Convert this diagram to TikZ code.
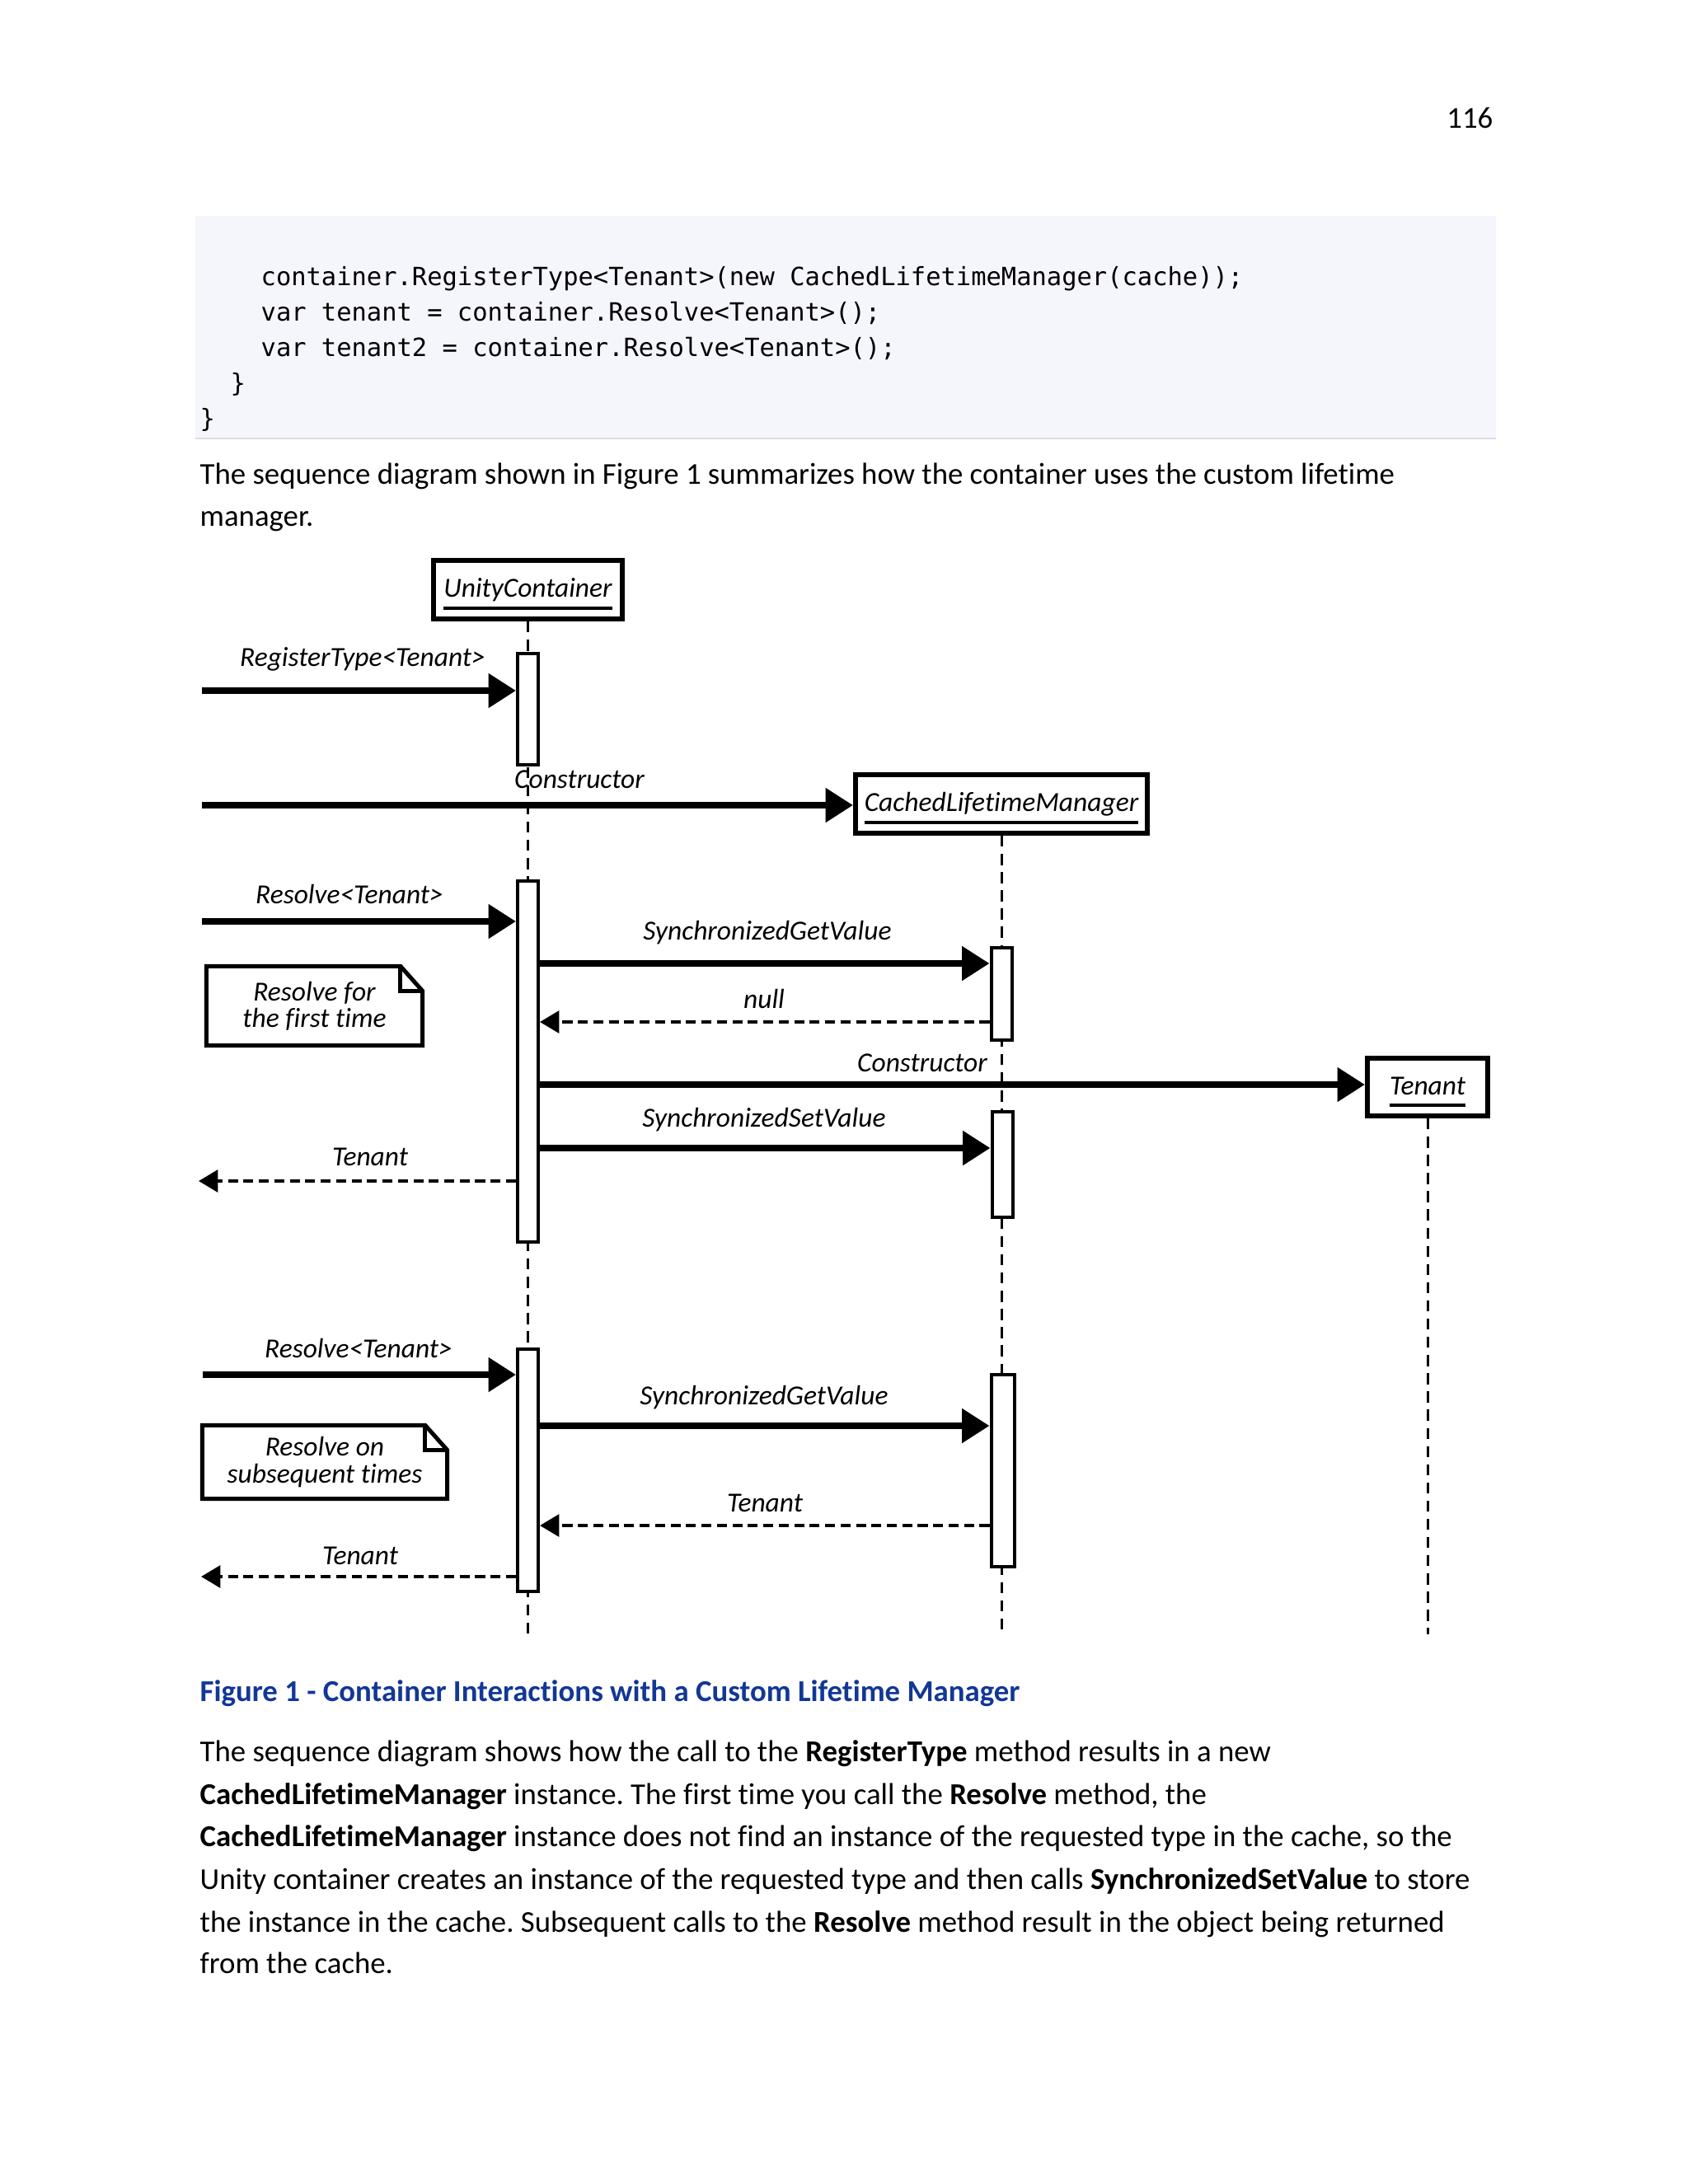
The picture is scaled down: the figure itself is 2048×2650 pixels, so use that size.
\documentclass[tikz,border=0pt]{standalone}
\usepackage{fontspec}
\setmainfont{Carlito}[Ligatures={NoCommon}]
\newfontfamily\codefont{DejaVu Sans Mono}
\usetikzlibrary{arrows.meta}
\newdimen\pxu
\pxu=0.29883pt
\definecolor{capblue}{RGB}{18,55,150}
\definecolor{codebg}{RGB}{245,245,252}
\definecolor{coderule}{RGB}{220,220,226}
\newcommand\objul[1]{\setbox0\hbox{#1}\leavevmode\rule{0pt}{10pt}\rlap{\raisebox{-4.4pt}{\rule{\wd0}{1.2pt}}}\box0}
\frenchspacing
\begin{document}
\begin{tikzpicture}[x=0.29883pt,y=-0.29883pt,
 body/.style={anchor=base west,inner sep=0pt,font=\fontsize{11}{13}\selectfont},
 codeline/.style={anchor=base west,inner sep=0pt,font=\codefont\fontsize{9.1}{11}\selectfont},
 lbl/.style={inner sep=0pt,font=\fontsize{10}{12}\selectfont\itshape},
 objbox/.style={draw,line width=1.8pt,fill=white,inner sep=0pt,font=\fontsize{10}{12}\selectfont\itshape},
 act/.style={draw,line width=1.2pt,fill=white,inner sep=0pt,minimum width=25*\pxu},
 lifeline/.style={line width=0.9pt,dash pattern=on 4pt off 2.6pt},
 call/.style={line width=2.4pt,-{Triangle[length=10pt,width=12pt]}},
 ret/.style={line width=1.2pt,dash pattern=on 3.6pt off 2pt,-{Triangle[length=7pt,width=8pt]}},
 notetext/.style={inner sep=0pt,align=center,font=\fontsize{10}{9.6}\selectfont\itshape},
 noteline/.style={line width=1.5pt,line join=miter}
]
\useasboundingbox (0,0) rectangle (2048,2650);
\fill[white] (0,0) rectangle (2048,2650);

% page number
\node[body,anchor=base east] (pg) at (1812,155) {116};

% code block
\fill[codebg] (237,262) rectangle (1815,532);
\draw[coderule,line width=0.7pt] (237,532) -- (1815,532);
\node[codeline] (c1) at (316,346) {container.RegisterType<Tenant>(new CachedLifetimeManager(cache));};
\node[codeline] (c2) at (316,389) {var tenant = container.Resolve<Tenant>();};
\node[codeline] (c3) at (316,432) {var tenant2 = container.Resolve<Tenant>();};
\node[codeline] (c4) at (279,475) {\}};
\node[codeline] (c5) at (242,518) {\}};

% intro text
\node[body] (p1) at (242,587) {The sequence diagram shown in Figure 1 summarizes how the container uses the custom lifetime};
\node[body] (p2) at (242,638) {manager.};

% ---------- sequence diagram ----------
% objects
\node[objbox,minimum width=229*\pxu,minimum height=71*\pxu] (uc) at (640.5,715.5) {\objul{UnityContainer}};
\node[objbox,minimum width=354*\pxu,minimum height=71*\pxu] (clm) at (1215,975.5) {\objul{CachedLifetimeManager}};
\node[objbox,minimum width=146*\pxu,minimum height=70*\pxu] (ten) at (1732,1319) {\objul{Tenant}};

% lifeline ends
\coordinate (ucend) at (640.5,1983);
\coordinate (clmend) at (1215,1983);
\coordinate (tenend) at (1732,1983);
\draw[lifeline] (uc.south) -- (ucend);
\draw[lifeline] (clm.south) -- (clmend);
\draw[lifeline] (ten.south) -- (tenend);

% activations
\node[act,minimum height=135*\pxu] (a1) at (640.5,860.5) {};
\node[act,minimum height=438*\pxu] (a2) at (640.5,1288) {};
\node[act,minimum height=294*\pxu] (a3) at (640.5,1784) {};
\node[act,minimum height=112*\pxu] (b1) at (1215,1206) {};
\node[act,minimum height=128*\pxu] (b2) at (1216,1413) {};
\node[act,minimum height=233*\pxu,minimum width=28*\pxu] (b3) at (1216.5,1784.5) {};

% free ends of the messages
\coordinate (s1) at (245,838);
\coordinate (s2) at (245,977);
\coordinate (s3) at (245,1118);
\coordinate (s4) at (0,1169);
\coordinate (s5) at (0,1240);
\coordinate (s6) at (0,1316);
\coordinate (s7) at (0,1393);
\coordinate (e1) at (241,1433);
\coordinate (s8) at (246,1668);
\coordinate (s9) at (0,1730);
\coordinate (s10) at (0,1851);
\coordinate (e2) at (244,1913);

% messages
\draw[call] (s1) -- (s1 -| a1.west);
\draw[call] (s2) -- (s2 -| clm.west);
\draw[call] (s3) -- (s3 -| a2.west);
\draw[call] (s4 -| a2.east) -- (s4 -| b1.west);
\draw[ret] (s5 -| b1.west) -- (s5 -| a2.east);
\draw[call] (s6 -| a2.east) -- (s6 -| ten.west);
\draw[call] (s7 -| a2.east) -- (s7 -| b2.west);
\draw[ret] (e1 -| a2.west) -- (e1);
\draw[call] (s8) -- (s8 -| a3.west);
\draw[call] (s9 -| a3.east) -- (s9 -| b3.west);
\draw[ret] (s10 -| b3.west) -- (s10 -| a3.east);
\draw[ret] (e2 -| a3.west) -- (e2);

% message labels
\node[lbl] (l1) at (440,800) {RegisterType<Tenant>};
\node[lbl] (l2) at (703,946) {Constructor};
\node[lbl] (l3) at (424,1085) {Resolve<Tenant>};
\node[lbl] (l4) at (931,1132) {SynchronizedGetValue};
\node[lbl] (l5) at (927,1212) {null};
\node[lbl] (l6) at (1119,1290) {Constructor};
\node[lbl] (l7) at (927,1359) {SynchronizedSetValue};
\node[lbl] (l8) at (449,1404) {Tenant};
\node[lbl] (l9) at (435,1636) {Resolve<Tenant>};
\node[lbl] (l10) at (927,1696) {SynchronizedGetValue};
\node[lbl] (l11) at (928,1824) {Tenant};
\node[lbl] (l12) at (437,1888) {Tenant};

% notes
\node[notetext,minimum width=261*\pxu,minimum height=95*\pxu] (n1) at (381.5,1220.5) {Resolve for\\the first time};
\draw[noteline] (n1.north west) -- ([xshift=-8pt]n1.north east) -- ([yshift=-9pt]n1.north east) -- (n1.south east) -- (n1.south west) -- cycle;
\draw[noteline] ([xshift=-8pt]n1.north east) -- ([xshift=-8pt,yshift=-9pt]n1.north east) -- ([yshift=-9pt]n1.north east);
\node[notetext,minimum width=296*\pxu,minimum height=88*\pxu] (n2) at (394,1774) {Resolve on\\subsequent times};
\draw[noteline] (n2.north west) -- ([xshift=-8pt]n2.north east) -- ([yshift=-9pt]n2.north east) -- (n2.south east) -- (n2.south west) -- cycle;
\draw[noteline] ([xshift=-8pt]n2.north east) -- ([xshift=-8pt,yshift=-9pt]n2.north east) -- ([yshift=-9pt]n2.north east);

% caption
\node[body,font=\fontsize{11}{13}\selectfont\bfseries,text=capblue] (cap) at (242,2064) {Figure 1 - Container Interactions with a Custom Lifetime Manager};

% closing paragraph
\node[body] (q1) at (242,2137) {The sequence diagram shows how the call to the \textbf{RegisterType} method results in a new};
\node[body] (q2) at (242,2189) {\textbf{CachedLifetimeManager} instance. The first time you call the \textbf{Resolve} method, the};
\node[body] (q3) at (242,2240) {\textbf{CachedLifetimeManager} instance does not find an instance of the requested type in the cache, so the};
\node[body] (q4) at (242,2292) {Unity container creates an instance of the requested type and then calls \textbf{SynchronizedSetValue} to store};
\node[body] (q5) at (242,2344) {the instance in the cache. Subsequent calls to the \textbf{Resolve} method result in the object being returned};
\node[body] (q6) at (242,2394) {from the cache.};
\end{tikzpicture}
\end{document}
